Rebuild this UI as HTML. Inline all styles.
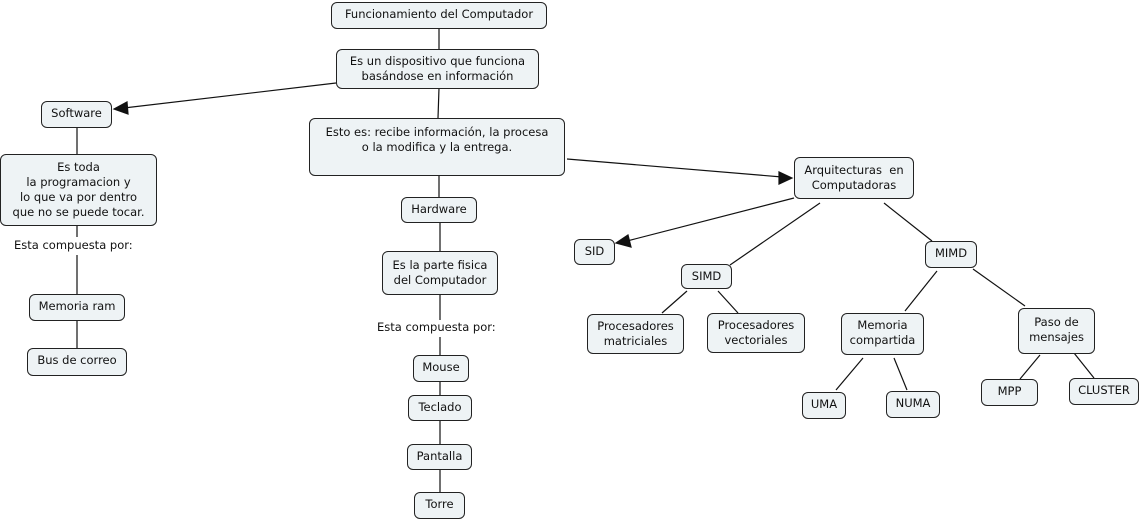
<!DOCTYPE html>
<html><head><meta charset="utf-8"><style>
body{margin:0;width:1142px;height:520px;background:#fff;position:relative;overflow:hidden;font-family:"DejaVu Sans","Liberation Sans",sans-serif;font-size:11.5px;color:#111}
.n{position:absolute;box-sizing:border-box;border:1px solid #222;border-radius:6px;background:#eef3f5;text-align:center;line-height:15px;padding-top:4px;white-space:nowrap}
.t{position:absolute;white-space:nowrap}
svg{position:absolute;left:0;top:0}
</style></head><body>
<svg width="1142" height="520" stroke="#111" stroke-width="1.2" fill="none">
<line x1="439" y1="28" x2="439" y2="49"/>
<line x1="336" y1="83" x2="124" y2="108"/><polygon points="114,109 127,102 128,114" fill="#111"/>
<line x1="439" y1="88" x2="438" y2="118"/>
<line x1="77" y1="127" x2="77" y2="154"/>
<line x1="77" y1="226" x2="77" y2="237"/>
<line x1="77" y1="255" x2="77" y2="294"/>
<line x1="77" y1="320" x2="77" y2="348"/>
<line x1="439" y1="176" x2="439" y2="197"/>
<line x1="440" y1="223" x2="440" y2="251"/>
<line x1="440" y1="295" x2="440" y2="320"/>
<line x1="440" y1="337" x2="440" y2="355"/>
<line x1="440" y1="381" x2="440" y2="395"/>
<line x1="440" y1="420" x2="440" y2="444"/>
<line x1="440" y1="469" x2="440" y2="492"/>
<line x1="567" y1="159" x2="782" y2="177"/><polygon points="792,178 779,172 779,184" fill="#111"/>
<line x1="794" y1="198" x2="627" y2="241"/><polygon points="616,243 628,235 631,247" fill="#111"/>
<line x1="820" y1="203" x2="730" y2="265"/>
<line x1="884" y1="203" x2="932" y2="241"/>
<line x1="687" y1="291" x2="662" y2="313"/>
<line x1="718" y1="291" x2="738" y2="313"/>
<line x1="937" y1="271" x2="905" y2="311"/>
<line x1="973" y1="269" x2="1025" y2="306"/>
<line x1="863" y1="358" x2="836" y2="390"/>
<line x1="894" y1="358" x2="907" y2="390"/>
<line x1="1040" y1="355" x2="1020" y2="379"/>
<line x1="1074" y1="353" x2="1094" y2="378"/>
</svg>
<div class="n" style="left:331px;top:2px;width:216px;height:27px">Funcionamiento del Computador</div>
<div class="n" style="left:336px;top:49px;width:203px;height:40px">Es un dispositivo que funciona<br>basándose en información</div>
<div class="n" style="left:41px;top:101px;width:71px;height:27px">Software</div>
<div class="n" style="left:309px;top:118px;width:256px;height:58px;padding-top:6px">Esto es: recibe información, la procesa<br>o la modifica y la entrega.</div>
<div class="n" style="left:0px;top:154px;width:157px;height:72px;padding-top:5px">Es toda<br>la programacion y<br>lo que va por dentro<br>que no se puede tocar.</div>
<div class="t" style="left:14px;top:238px">Esta compuesta por:</div>
<div class="n" style="left:29px;top:294px;width:96px;height:27px">Memoria ram</div>
<div class="n" style="left:27px;top:348px;width:100px;height:28px">Bus de correo</div>
<div class="n" style="left:401px;top:197px;width:76px;height:26px">Hardware</div>
<div class="n" style="left:382px;top:251px;width:116px;height:44px;padding-top:6px">Es la parte fisica<br>del Computador</div>
<div class="t" style="left:377px;top:320px">Esta compuesta por:</div>
<div class="n" style="left:413px;top:355px;width:56px;height:27px">Mouse</div>
<div class="n" style="left:408px;top:395px;width:64px;height:26px">Teclado</div>
<div class="n" style="left:407px;top:444px;width:65px;height:26px">Pantalla</div>
<div class="n" style="left:414px;top:492px;width:51px;height:27px">Torre</div>
<div class="n" style="left:794px;top:157px;width:120px;height:42px;padding-top:5px">Arquitecturas&nbsp; en<br>Computadoras</div>
<div class="n" style="left:574px;top:239px;width:41px;height:26px">SID</div>
<div class="n" style="left:681px;top:264px;width:51px;height:25px">SIMD</div>
<div class="n" style="left:925px;top:241px;width:52px;height:27px">MIMD</div>
<div class="n" style="left:587px;top:314px;width:97px;height:40px">Procesadores<br>matriciales</div>
<div class="n" style="left:707px;top:313px;width:98px;height:40px">Procesadores<br>vectoriales</div>
<div class="n" style="left:841px;top:313px;width:83px;height:42px">Memoria<br>compartida</div>
<div class="n" style="left:1018px;top:308px;width:77px;height:46px;padding-top:6px">Paso de<br>mensajes</div>
<div class="n" style="left:802px;top:392px;width:44px;height:27px">UMA</div>
<div class="n" style="left:886px;top:391px;width:54px;height:27px">NUMA</div>
<div class="n" style="left:981px;top:379px;width:57px;height:27px">MPP</div>
<div class="n" style="left:1069px;top:378px;width:70px;height:27px">CLUSTER</div>
</body></html>
